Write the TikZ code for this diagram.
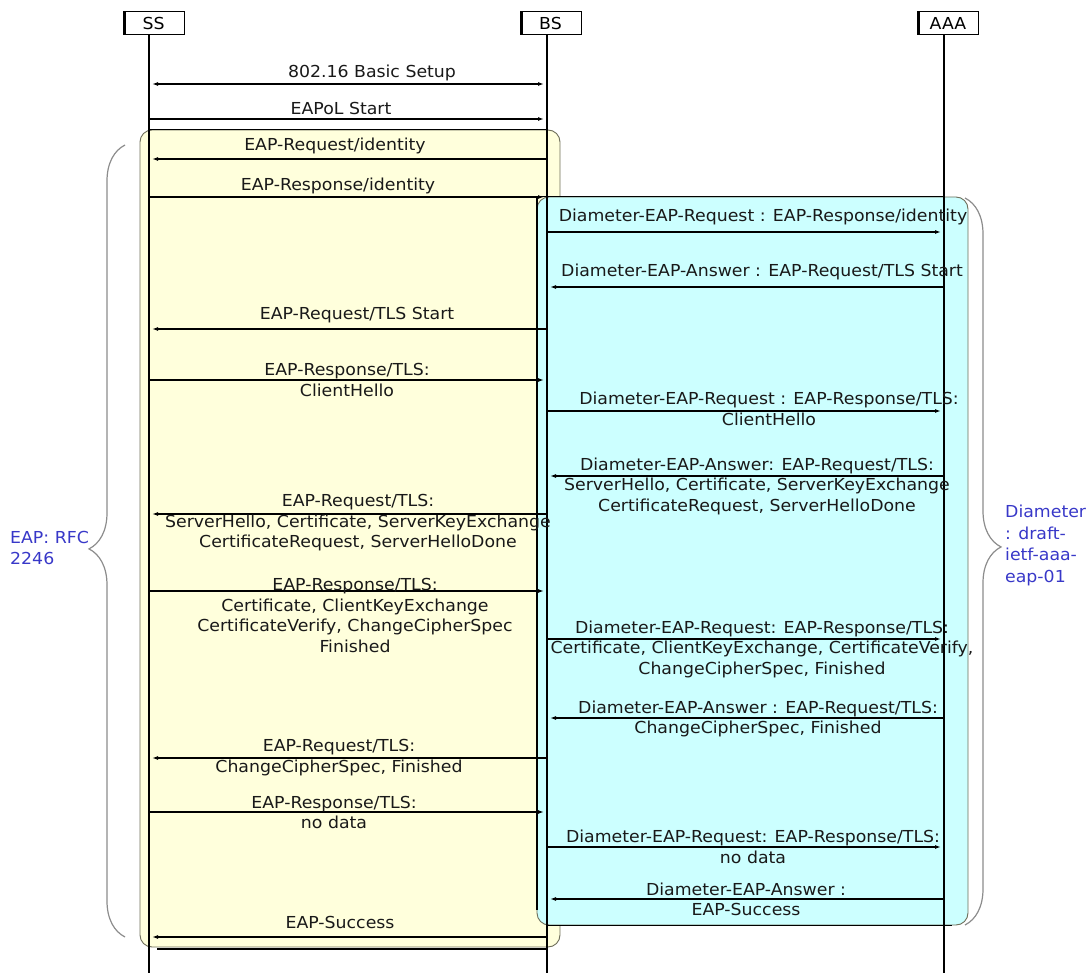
\documentclass[tikz,border=0pt]{standalone}
\usepackage{fontspec}
\setmainfont[FakeStretch=1.05]{DejaVu Sans}
\usetikzlibrary{arrows.meta,decorations.pathreplacing}
\definecolor{yel}{HTML}{FFFFDC}
\definecolor{cya}{HTML}{CCFFFF}
\definecolor{bluelbl}{HTML}{3838C8}
\definecolor{brc}{HTML}{8C8C8C}
\definecolor{frm}{HTML}{6E6E5A}
\tikzset{
  ent/.style={draw, line width=1pt, minimum width=61pt, minimum height=23pt, inner sep=0pt, font=\fontsize{16.5}{18}\selectfont},
  life/.style={line width=1.3pt},
  msg/.style={line width=1.2pt, -{Latex[length=6pt,width=4pt]}, shorten >=3pt},
  dbl/.style={line width=1.2pt, {Latex[length=6pt,width=4pt]}-{Latex[length=6pt,width=4pt]}, shorten >=3pt, shorten <=3pt},
  lbl/.style={align=center, inner sep=0pt, text=black!90, font=\fontsize{16.5}{20.5}\selectfont},
  side/.style={align=left, inner sep=0pt, anchor=west, text=bluelbl},
  brace/.style={draw=brc, line width=1.2pt, decorate},
  thk/.style={line width=2.8pt}
}
\begin{document}
\begin{tikzpicture}[x=1pt,y=-1pt]
\useasboundingbox (0,0) rectangle (1088,973);
% group frames
\filldraw[fill=yel, draw=frm, line width=0.9pt, rounded corners=12pt] (140,130) rectangle (560,947);
\filldraw[fill=cya, draw=frm, line width=0.9pt, rounded corners=12pt] (537,197) rectangle (968,925);
% entities
\node[ent] (ss) at (153.5,23.5) {SS};
\node[ent] (bs) at (550.5,23.5) {BS};
\node[ent] (aaa) at (948,23.5) {AAA};
\foreach \n in {ss,bs,aaa}
  \draw[line width=3pt] ([xshift=1.5pt]\n.north west) -- ([xshift=1.5pt]\n.south west);
\coordinate (ssx) at (149,35);
\coordinate (bsx) at (547,35);
\coordinate (aaax) at (944,35);
\coordinate (ssend) at (149,973);
\coordinate (bsend) at (547,973);
\coordinate (aaaend) at (944,973);
\draw[life] (ssx) -- (ssend);
\draw[life] (bsx) -- (bsend);
\draw[life] (aaax) -- (aaaend);
% frame lines
\draw[line width=1pt] (ssx |- 0,130) -- (bsx |- 0,130);
\draw[line width=1pt] (537,197) -- (aaax |- 0,197);
\draw[line width=1pt] (bsx |- 0,925) -- (952,925);
\draw[thk] (537,197) -- (537,910);
\draw[thk] (157,949) -- (bsx |- 0,949);
% braces
\draw[brace, decoration={brace, amplitude=36pt, aspect=0.49}] (125,937) -- (125,145);
\draw[brace, decoration={brace, amplitude=36pt, aspect=0.48}] (965,198) -- (965,925);
\node[side, font=\fontsize{16.5}{21}\selectfont] (eaprfc) at (10,547.5) {EAP: RFC\\2246};
\node[side, font=\fontsize{16.5}{21.7}\selectfont] (diamdraft) at (1005,545.5) {Diameter\\: draft-\\ietf-aaa-\\eap-01};
% messages
\draw[dbl] (ssx |- 0,84) -- (bsx |- 0,84);
\node[lbl] (t1) at (372,73) {802.16 Basic Setup};
\draw[msg] (ssx |- 0,119) -- (bsx |- 0,119);
\node[lbl] (t2) at (341,108) {EAPoL Start};
\draw[msg] (bsx |- 0,159) -- (ssx |- 0,159);
\node[lbl] (t3) at (335,146) {EAP-Request/identity};
\draw[msg] (ssx |- 0,197) -- (bsx |- 0,197);
\node[lbl] (t4) at (338,186) {EAP-Response/identity};
\draw[msg, line width=2pt] (bsx |- 0,232) -- (aaax |- 0,232);
\node[lbl] (t5) at (763,217) {Diameter-EAP-Request : EAP-Response/identity};
\draw[msg] (aaax |- 0,287) -- (bsx |- 0,287);
\node[lbl] (t6) at (762,272) {Diameter-EAP-Answer : EAP-Request/TLS Start};
\draw[msg] (bsx |- 0,329) -- (ssx |- 0,329);
\node[lbl] (t7) at (357,315) {EAP-Request/TLS Start};
\draw[msg] (ssx |- 0,380) -- (bsx |- 0,380);
\node[lbl] (t8) at (347,380) {EAP-Response/TLS:\\ClientHello};
\draw[msg] (bsx |- 0,411) -- (aaax |- 0,411);
\node[lbl] (t9) at (769,409) {Diameter-EAP-Request : EAP-Response/TLS:\\ClientHello};
\draw[msg] (aaax |- 0,476) -- (bsx |- 0,476);
\node[lbl] (t10) at (757,486) {Diameter-EAP-Answer: EAP-Request/TLS:\\ServerHello, Certificate, ServerKeyExchange\\CertificateRequest, ServerHelloDone};
\draw[msg, line width=2.6pt] (bsx |- 0,514) -- (ssx |- 0,514);
\node[lbl] (t11) at (358,523) {EAP-Request/TLS:\\ServerHello, Certificate, ServerKeyExchange\\CertificateRequest, ServerHelloDone};
\draw[msg, line width=2.6pt] (ssx |- 0,591) -- (bsx |- 0,591);
\node[lbl] (t12) at (355,615.5) {EAP-Response/TLS:\\Certificate, ClientKeyExchange\\CertificateVerify, ChangeCipherSpec\\Finished};
\draw[msg] (bsx |- 0,639) -- (aaax |- 0,639);
\node[lbl] (t13) at (762,649) {Diameter-EAP-Request: EAP-Response/TLS:\\Certificate, ClientKeyExchange, CertificateVerify,\\ChangeCipherSpec, Finished};
\draw[msg] (aaax |- 0,718) -- (bsx |- 0,718);
\node[lbl] (t14) at (758,719) {Diameter-EAP-Answer : EAP-Request/TLS:\\ChangeCipherSpec, Finished};
\draw[msg] (bsx |- 0,758) -- (ssx |- 0,758);
\node[lbl] (t15) at (339,757.5) {EAP-Request/TLS:\\ChangeCipherSpec, Finished};
\draw[msg] (ssx |- 0,812) -- (bsx |- 0,812);
\node[lbl] (t16) at (334,812.5) {EAP-Response/TLS:\\no data};
\draw[msg] (bsx |- 0,847) -- (aaax |- 0,847);
\node[lbl] (t17) at (753,847) {Diameter-EAP-Request: EAP-Response/TLS:\\no data};
\draw[msg] (aaax |- 0,899) -- (bsx |- 0,899);
\node[lbl] (t18) at (746,899.5) {Diameter-EAP-Answer :\\EAP-Success};
\draw[msg] (bsx |- 0,937) -- (ssx |- 0,937);
\node[lbl] (t19) at (340,922) {EAP-Success};
\end{tikzpicture}
\end{document}
